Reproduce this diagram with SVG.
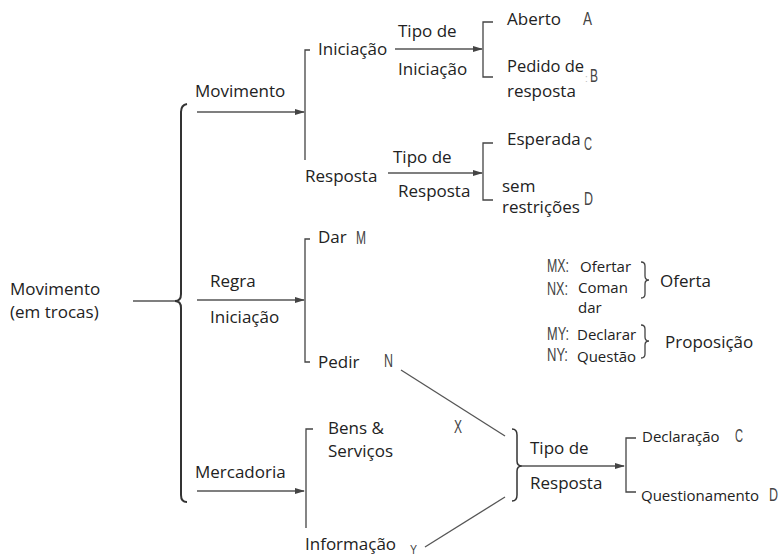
<svg xmlns="http://www.w3.org/2000/svg" width="783" height="556" viewBox="0 0 783 556">
<style>
.t{font-family:"Open Sans","Noto Sans",sans-serif;font-size:17px;fill:#222}
.s{font-family:"Open Sans","Noto Sans",sans-serif;font-size:15px;fill:#222}
.l{font-family:"Liberation Sans",sans-serif;font-size:17.5px;fill:#444}
.ln{fill:none;stroke:#555;stroke-width:1.3}
.br{fill:none;stroke:#333;stroke-width:2}
.bt{fill:none;stroke:#444;stroke-width:1.3}
</style>
<defs>
<marker id="ah" markerWidth="10" markerHeight="8" refX="9" refY="4" orient="auto" markerUnits="userSpaceOnUse">
<path d="M0,1 L10,4 L0,7 Z" fill="#444"/>
</marker>
</defs>
<g id="connectors">
<line class="ln" x1="133" y1="301" x2="175" y2="301"/>
<line class="ln" x1="197" y1="112" x2="304" y2="112" marker-end="url(#ah)"/>
<line class="ln" x1="395" y1="49" x2="482" y2="49" marker-end="url(#ah)"/>
<line class="ln" x1="388" y1="173" x2="482" y2="173" marker-end="url(#ah)"/>
<line class="ln" x1="197" y1="300" x2="304" y2="300" marker-end="url(#ah)"/>
<line class="ln" x1="197" y1="491" x2="304" y2="491" marker-end="url(#ah)"/>
<line class="ln" x1="522" y1="466" x2="624" y2="466" marker-end="url(#ah)"/>
<line class="ln" x1="401" y1="370" x2="505" y2="436"/>
<line class="ln" x1="425" y1="547" x2="505" y2="497"/>
</g>
<g id="brace-main">
<path class="br" d="M187,104 Q181,105 181,112 L181,294 Q181,301 175,301 Q181,301 181,308 L181,495 Q181,502 187,502"/>
</g>
<g id="node-movimento-trocas">
<text class="t" x="10" y="295">Movimento</text>
<text class="t" x="10" y="318">(em trocas)</text>
</g>
<g id="node-movimento">
<text class="t" x="195" y="97">Movimento</text>
<path class="bt" d="M310,50 L305,50 L305,160"/>
</g>
<g id="node-iniciacao">
<text class="t" x="318" y="55">Iniciação</text>
<text class="t" x="398" y="37">Tipo de</text>
<text class="t" x="398" y="75">Iniciação</text>
<path class="bt" d="M493,22 L483,22 L483,77 L493,77"/>
</g>
<g id="node-aberto">
<text class="t" x="507" y="25">Aberto</text>
<text class="l" x="583" y="25" textLength="9" lengthAdjust="spacingAndGlyphs">A</text>
</g>
<g id="node-pedido">
<text class="t" x="507" y="72" style="font-size:16.5px">Pedido de</text>
<text class="t" x="507" y="97">resposta</text>
<text class="l" x="585" y="82" style="fill:#bbb;font-size:10px">:</text>
<text class="l" x="590" y="82" textLength="8" lengthAdjust="spacingAndGlyphs">B</text>
</g>
<g id="node-resposta">
<text class="t" x="305" y="182">Resposta</text>
<text class="t" x="393" y="163">Tipo de</text>
<text class="t" x="398" y="197">Resposta</text>
<path class="bt" d="M493,143 L483,143 L483,200 L493,200"/>
</g>
<g id="node-esperada">
<text class="t" x="507" y="145">Esperada</text>
<text class="l" x="584" y="150" textLength="8" lengthAdjust="spacingAndGlyphs">C</text>
</g>
<g id="node-sem-restricoes">
<text class="t" x="502" y="192">sem</text>
<text class="t" x="502" y="213">restrições</text>
<text class="l" x="584" y="205" textLength="9" lengthAdjust="spacingAndGlyphs">D</text>
</g>
<g id="node-regra">
<text class="t" x="210" y="287">Regra</text>
<text class="t" x="210" y="323">Iniciação</text>
<path class="bt" d="M310,239 L305,239 L305,362 L310,362"/>
</g>
<g id="node-dar">
<text class="t" x="318" y="243">Dar</text>
<text class="l" x="356" y="244" textLength="10" lengthAdjust="spacingAndGlyphs">M</text>
</g>
<g id="node-pedir">
<text class="t" x="318" y="368">Pedir</text>
<text class="l" x="384" y="367" textLength="9" lengthAdjust="spacingAndGlyphs">N</text>
</g>
<g id="node-mercadoria">
<text class="t" x="195" y="478">Mercadoria</text>
<path class="bt" d="M313,429 L306,429 L306,528"/>
</g>
<g id="node-bens">
<text class="t" x="328" y="434">Bens &amp;</text>
<text class="t" x="328" y="457">Serviços</text>
<text class="l" x="454" y="433" textLength="8" lengthAdjust="spacingAndGlyphs">X</text>
</g>
<g id="node-informacao">
<text class="t" x="305" y="550">Informação</text>
<text class="l" x="410" y="554" style="font-size:13px" textLength="7" lengthAdjust="spacingAndGlyphs">Y</text>
</g>
<g id="node-tipo-resposta">
<path class="br" style="stroke-width:1.5" d="M512,429 Q517,429 517,435 L517,461 Q517,466 522,466 Q517,466 517,471 L517,495 Q517,501 512,501"/>
<text class="t" x="530" y="454">Tipo de</text>
<text class="t" x="530" y="489">Resposta</text>
<path class="bt" d="M636,438 L626,438 L626,492 L636,492"/>
</g>
<g id="node-declaracao">
<text class="s" x="642" y="442">Declaração</text>
<text class="l" x="735" y="442" textLength="8" lengthAdjust="spacingAndGlyphs">C</text>
</g>
<g id="node-questionamento">
<text class="s" x="641" y="501">Questionamento</text>
<text class="l" x="769" y="501" textLength="9" lengthAdjust="spacingAndGlyphs">D</text>
</g>
<g id="node-oferta">
<text class="l" x="547" y="272" textLength="22" lengthAdjust="spacingAndGlyphs">MX:</text>
<text class="s" x="580" y="272">Ofertar</text>
<text class="l" x="547" y="295" textLength="21" lengthAdjust="spacingAndGlyphs">NX:</text>
<text class="s" x="578" y="293">Coman</text>
<text class="s" x="578" y="313">dar</text>
<path class="bt" d="M641,262 Q645,262 645,266 L645,276 Q645,280 649,280 Q645,280 645,284 L645,294 Q645,298 641,298"/>
<text class="t" x="660" y="287">Oferta</text>
</g>
<g id="node-proposicao">
<text class="l" x="547" y="340" textLength="22" lengthAdjust="spacingAndGlyphs">MY:</text>
<text class="s" x="577" y="340">Declarar</text>
<text class="l" x="547" y="361" textLength="21" lengthAdjust="spacingAndGlyphs">NY:</text>
<text class="s" x="577" y="362">Questão</text>
<path class="bt" d="M641,325 Q645,325 645,329 L645,337 Q645,341 649,341 Q645,341 645,345 L645,354 Q645,358 641,358"/>
<text class="t" x="665" y="348">Proposição</text>
</g>
</svg>
